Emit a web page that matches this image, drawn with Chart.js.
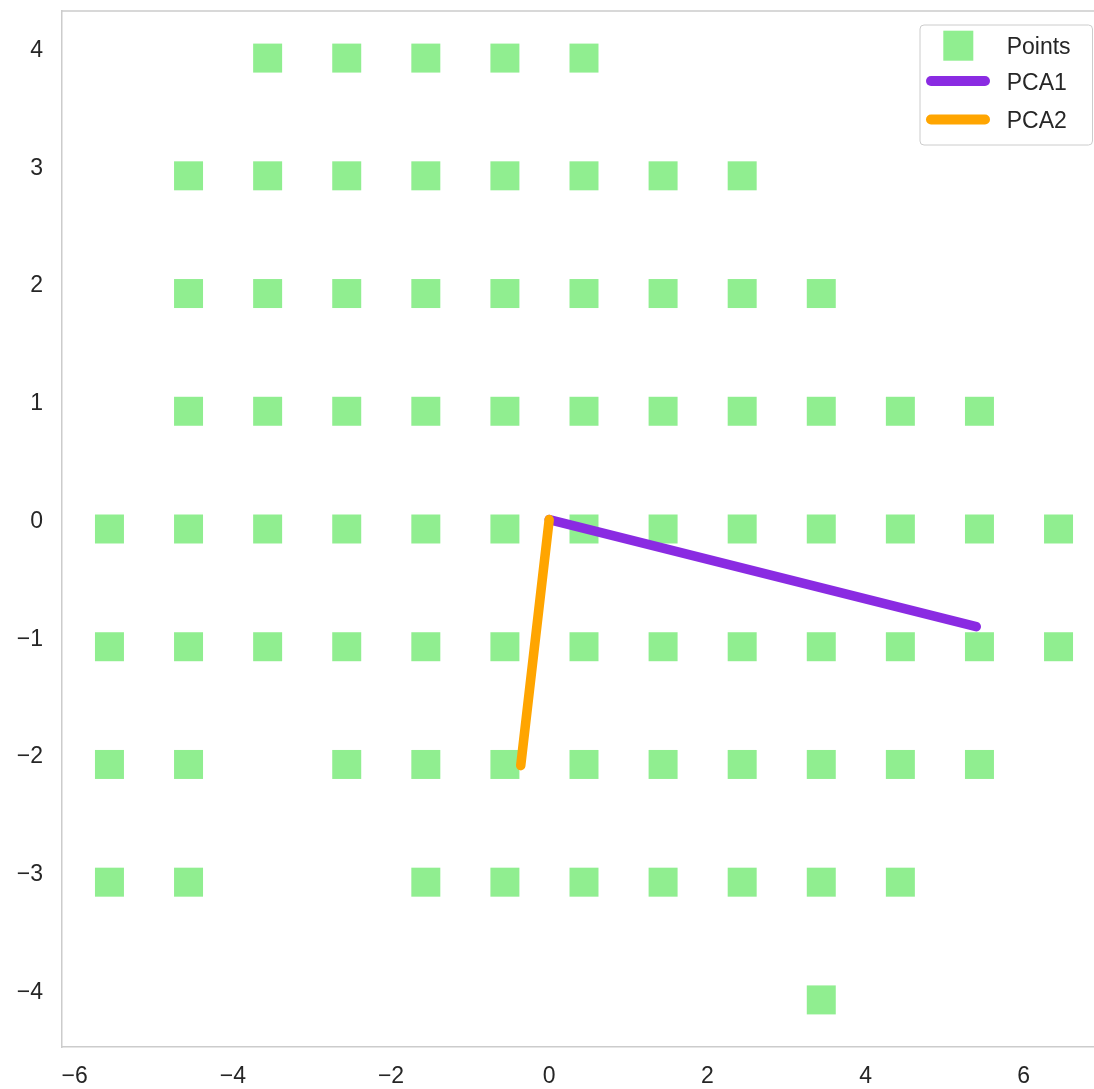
<!DOCTYPE html>
<html>
<head>
<meta charset="utf-8">
<script src="https://cdn.jsdelivr.net/npm/chart.js@4.4.1/dist/chart.umd.min.js"></script>
<style>
  html, body { margin: 0; padding: 0; overflow: hidden; background: #ffffff; }
  #wrap { position: relative; width: 1106px; height: 1089px; }
</style>
</head>
<body>
<div id="wrap"><canvas id="c"></canvas></div>
<script>
// ---- data ----
const rowY = [3.92, 2.92, 1.92, 0.92, -0.08, -1.08, -2.08, -3.08, -4.08];
const row0X = [-3.56, -2.56, -1.56, -0.56, 0.44];
const row1X = [-4.56, -3.56, -2.56, -1.56, -0.56, 0.44, 1.44, 2.44];
const row2X = [-4.56, -3.56, -2.56, -1.56, -0.56, 0.44, 1.44, 2.44, 3.44];
const row3X = [-4.56, -3.56, -2.56, -1.56, -0.56, 0.44, 1.44, 2.44, 3.44, 4.44, 5.44];
const row4X = [-5.56, -4.56, -3.56, -2.56, -1.56, -0.56, 0.44, 1.44, 2.44, 3.44, 4.44, 5.44, 6.44];
const row5X = [-5.56, -4.56, -3.56, -2.56, -1.56, -0.56, 0.44, 1.44, 2.44, 3.44, 4.44, 5.44, 6.44];
const row6X = [-5.56, -4.56, -2.56, -1.56, -0.56, 0.44, 1.44, 2.44, 3.44, 4.44, 5.44];
const row7X = [-5.56, -4.56, -1.56, -0.56, 0.44, 1.44, 2.44, 3.44, 4.44];
const row8X = [3.44];
const rowX = [row0X, row1X, row2X, row3X, row4X, row5X, row6X, row7X, row8X];

const pcaOrigin = [0, 0];
const pca1End = [5.40, -0.91];
const pca2End = [-0.36, -2.09];

const seriesLabels = ['Points', 'PCA1', 'PCA2'];
const xTicks = [-6, -4, -2, 0, 2, 4, 6];
const yTicks = [-4, -3, -2, -1, 0, 1, 2, 3, 4];
const xRange = [-6.16, 7.04];
const yRange = [-4.48, 4.32];

// ---- build chart data ----
const points = rowX.flatMap((xs, i) => xs.map(x => ({ x: x, y: rowY[i] })));
const seg = (a, b) => [{ x: a[0], y: a[1] }, { x: b[0], y: b[1] }];

const FONT = '"Liberation Sans", Arial, sans-serif';
const TEXT = '#262626';
const SPINE = '#cccccc';

const noPad = s => { s.paddingLeft = 0; s.paddingRight = 0; s.paddingTop = 0; s.paddingBottom = 0; };

const framePlugin = {
  id: 'frameAndLegend',
  afterDraw(chart) {
    const { ctx, chartArea: a } = chart;
    ctx.save();
    // top / right spines
    ctx.strokeStyle = SPINE;
    ctx.lineWidth = 1.5;
    ctx.beginPath();
    ctx.moveTo(a.left, a.top);
    ctx.lineTo(a.right, a.top);
    ctx.lineTo(a.right, a.bottom);
    ctx.stroke();

    // legend
    const bw = 172.5, bh = 120;
    const bx = a.right - 13.5 - bw;
    const by = a.top + 14;
    ctx.beginPath();
    if (ctx.roundRect) ctx.roundRect(bx, by, bw, bh, 4); else ctx.rect(bx, by, bw, bh);
    ctx.fillStyle = 'rgba(255,255,255,0.8)';
    ctx.fill();
    ctx.lineWidth = 1;
    ctx.strokeStyle = SPINE;
    ctx.stroke();

    const ds = chart.data.datasets;
    // Points handle
    ctx.fillStyle = ds[0].backgroundColor;
    ctx.fillRect(bx + 23.3, by + 5.7, 30, 30);
    // line handles
    const lineYs = [by + 56, by + 94.5];
    [1, 2].forEach((k, i) => {
      ctx.beginPath();
      ctx.strokeStyle = ds[k].borderColor;
      ctx.lineWidth = 10;
      ctx.lineCap = 'round';
      ctx.moveTo(bx + 11, lineYs[i]);
      ctx.lineTo(bx + 65, lineYs[i]);
      ctx.stroke();
    });
    // texts
    ctx.fillStyle = TEXT;
    ctx.font = '23px ' + FONT;
    ctx.textAlign = 'left';
    ctx.textBaseline = 'middle';
    const textYs = [by + 22.5, by + 59, by + 97];
    ds.forEach((d, i) => ctx.fillText(d.label, bx + 86.7, textYs[i]));
    ctx.restore();
  }
};

new Chart(document.getElementById('c'), {
  type: 'scatter',
  data: {
    datasets: [
      {
        label: seriesLabels[0],
        data: points,
        pointStyle: 'rect',
        pointRadius: 20.5,
        pointHoverRadius: 20.5,
        backgroundColor: '#90EE90',
        borderColor: '#90EE90',
        borderWidth: 0,
        order: 3
      },
      {
        label: seriesLabels[1],
        type: 'line',
        data: seg(pcaOrigin, pca1End),
        borderColor: '#8A2BE2',
        backgroundColor: '#8A2BE2',
        borderWidth: 9.5,
        borderCapStyle: 'round',
        pointRadius: 0,
        fill: false,
        tension: 0,
        order: 2
      },
      {
        label: seriesLabels[2],
        type: 'line',
        data: seg(pcaOrigin, pca2End),
        borderColor: '#FFA500',
        backgroundColor: '#FFA500',
        borderWidth: 9.5,
        borderCapStyle: 'round',
        pointRadius: 0,
        fill: false,
        tension: 0,
        order: 1
      }
    ]
  },
  options: {
    responsive: true,
    maintainAspectRatio: false,
    animation: false,
    layout: { autoPadding: false, padding: { top: 11, right: 0, bottom: 0, left: 0 } },
    plugins: {
      legend: { display: false },
      tooltip: { enabled: false }
    },
    scales: {
      x: {
        type: 'linear',
        min: xRange[0],
        max: xRange[1],
        afterBuildTicks: s => { s.ticks = xTicks.map(v => ({ value: v })); },
        afterFit: s => { s.height = 42; noPad(s); },
        grid: { display: true, color: 'rgba(0,0,0,0)', drawTicks: false },
        border: { display: true, color: SPINE, width: 1.5 },
        ticks: {
          padding: 16,
          color: TEXT,
          font: { family: FONT, size: 23 },
          callback: v => String(v).replace('-', '\u2212')
        }
      },
      y: {
        type: 'linear',
        min: yRange[0],
        max: yRange[1],
        afterBuildTicks: s => { s.ticks = yTicks.map(v => ({ value: v })); },
        afterFit: s => { s.width = 62; noPad(s); },
        grid: { display: true, color: 'rgba(0,0,0,0)', drawTicks: false },
        border: { display: true, color: SPINE, width: 1.5 },
        ticks: {
          padding: 19,
          labelOffset: 2,
          color: TEXT,
          font: { family: FONT, size: 23 },
          callback: v => String(v).replace('-', '\u2212')
        }
      }
    }
  },
  plugins: [framePlugin]
});
</script>
</body>
</html>
